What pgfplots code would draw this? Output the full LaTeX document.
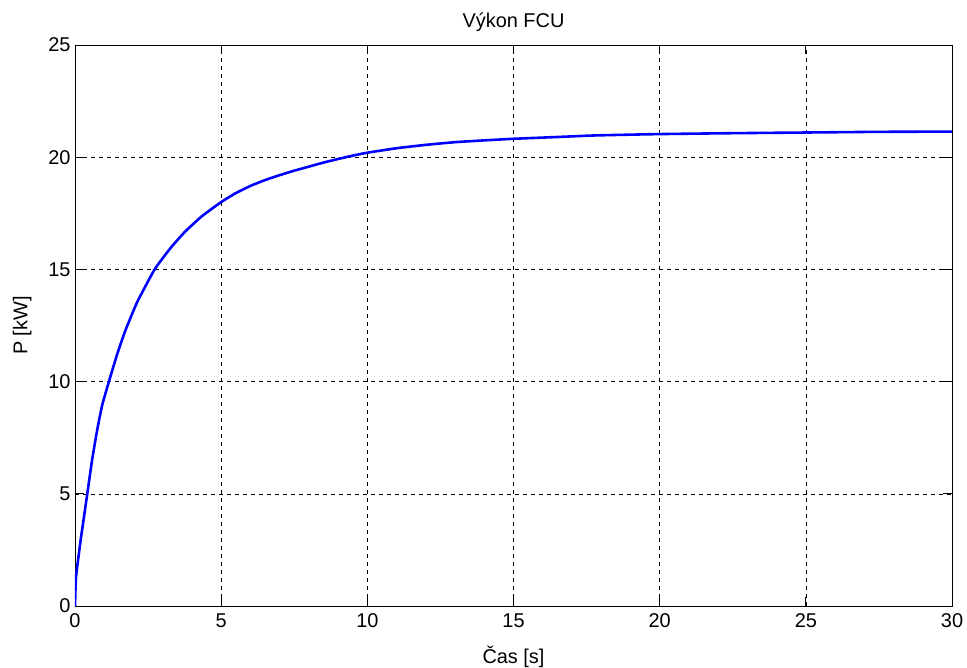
\documentclass[border=0pt]{standalone}
\usepackage{pgfplots}
\pgfplotsset{compat=1.18}
\usepackage{fontspec}
\setmainfont{Liberation Sans}
\usetikzlibrary{calc}
\pgfplotstableread{
t P
0 0
0.03 1.2
0.1 2.0
0.2 3.0
0.3 3.9
0.42 5.0
0.59 6.55
0.76 7.85
0.93 8.95
1.16 10.0
1.45 11.25
1.73 12.3
2.13 13.55
2.70 14.95
3.0 15.5
3.33 16.05
3.78 16.7
4.35 17.38
5.0 18.0
5.5 18.4
6.0 18.72
6.5 18.98
7.0 19.2
7.5 19.4
8.0 19.58
8.5 19.76
9.0 19.92
9.5 20.07
10 20.2
11 20.4
12 20.55
13 20.67
14 20.75
15 20.82
16.5 20.9
17.8 20.97
20 21.03
22.5 21.07
25 21.1
27.5 21.13
30 21.14
}\datatable
\begin{document}
\begin{tikzpicture}
\begin{axis}[
  name=ax,
  at={(0,0)}, anchor=south west,
  scale only axis,
  width=877bp, height=561bp,
  xmin=0, xmax=30, ymin=0, ymax=25,
  xtick={0,5,...,30}, ytick={0,5,...,25},
  tick align=inside,
  major tick length=9bp,
  tick style={black, line width=0.8pt},
  axis line style={black, line width=0.8pt},
  grid=major,
  major grid style={black, line width=0.6pt, dash pattern=on 4bp off 4bp},
  font=\fontsize{20}{23}\selectfont,
  tick label style={font=\fontsize{20}{23}\selectfont},
  /pgf/number format/assume math mode=true,
  xticklabel style={yshift=-4bp},
  yticklabel style={xshift=-1bp},
  title={Výkon FCU},
  title style={yshift=4bp},
  xlabel={Čas [s]},
  ylabel={P [kW]},
  xlabel style={yshift=-12bp},
  ylabel style={yshift=10bp},
]
\addplot[blue, line width=2.6pt, line join=round, smooth, tension=0.3] table[x=t, y=P] {\datatable};
\end{axis}
\pgfresetboundingbox
\path ($(ax.south west)+(-75bp,-62bp)$) rectangle ($(ax.north east)+(15bp,45bp)$);
\end{tikzpicture}
\end{document}
